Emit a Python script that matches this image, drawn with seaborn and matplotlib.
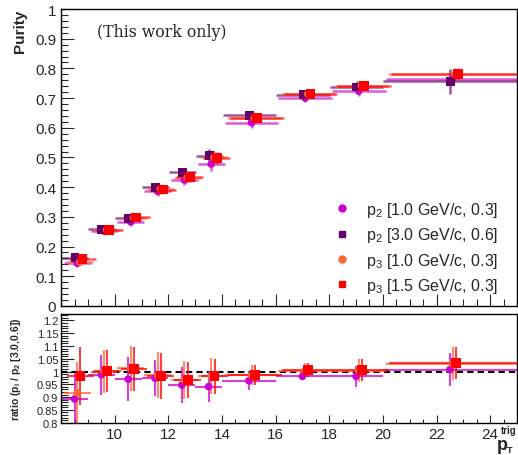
import numpy as np
import pandas as pd
import seaborn as sns
import matplotlib.pyplot as plt
from matplotlib.ticker import MultipleLocator
from matplotlib.lines import Line2D

# pT trigger bins
bin_lo = [8, 9, 10, 11, 12, 13, 14, 16, 18, 20]
bin_hi = [9, 10, 11, 12, 13, 14, 16, 18, 20, 25]

# purity (top panel)
pur_p2_10 = [0.144, 0.252, 0.283, 0.386, 0.424, 0.478, 0.617, 0.700, 0.724, 0.764]
pur_p2_30 = [0.162, 0.258, 0.295, 0.399, 0.450, 0.506, 0.642, 0.712, 0.737, 0.757]
pur_p3_10 = [0.148, 0.256, 0.297, 0.394, 0.432, 0.500, 0.633, 0.714, 0.742, 0.781]
pur_p3_15 = [0.158, 0.256, 0.298, 0.392, 0.434, 0.498, 0.632, 0.715, 0.742, 0.782]
err_p2_10 = [0.012, 0.012, 0.014, 0.016, 0.018, 0.022, 0.018, 0.012, 0.018, 0.020]
err_p2_30 = [0.010, 0.010, 0.012, 0.014, 0.016, 0.022, 0.016, 0.016, 0.022, 0.042]
err_p3_10 = [0.012, 0.012, 0.014, 0.016, 0.018, 0.022, 0.016, 0.012, 0.016, 0.020]
err_p3_15 = [0.010, 0.010, 0.012, 0.014, 0.016, 0.020, 0.014, 0.012, 0.014, 0.018]

# ratio to p2 [3.0, 0.6] (bottom panel)
rat_p2_10 = [0.893, 0.987, 0.970, 0.974, 0.947, 0.941, 0.964, 0.981, 0.981, 1.008]
rat_p3_10 = [0.916, 1.000, 1.012, 0.985, 0.966, 0.984, 0.986, 1.004, 1.004, 1.030]
rat_p3_15 = [0.983, 1.002, 1.010, 0.982, 0.968, 0.982, 0.986, 1.006, 1.006, 1.033]
rerr_p2_10 = [0.100, 0.079, 0.087, 0.071, 0.071, 0.060, 0.035, 0.016, 0.040, 0.064]
rerr_p3_10 = [0.120, 0.085, 0.090, 0.090, 0.075, 0.070, 0.040, 0.030, 0.045, 0.065]
rerr_p3_15 = [0.115, 0.083, 0.085, 0.090, 0.071, 0.068, 0.039, 0.029, 0.042, 0.064]

labels = ['p$_{\\mathregular{2}}$ [1.0 GeV/c, 0.3]',
          'p$_{\\mathregular{2}}$ [3.0 GeV/c, 0.6]',
          'p$_{\\mathregular{3}}$ [1.0 GeV/c, 0.3]',
          'p$_{\\mathregular{3}}$ [1.5 GeV/c, 0.3]']
colors = ['#cc00cc', '#660066', '#ff6633', '#ff0000']
markers = ['o', 's', 'o', 's']
msizes = [30, 40, 30, 50]

sns.set_style("ticks")
plt.rcParams['font.family'] = ['Liberation Sans', 'DejaVu Sans']
plt.rcParams['mathtext.default'] = 'regular'

lo = np.array(bin_lo, float)
hi = np.array(bin_hi, float)
center = (lo + hi) / 2
half = (hi - lo) / 2

fig = plt.figure(figsize=(5.18, 4.56), dpi=100)
ax1 = fig.add_axes([0.118, 0.327, 0.880, 0.651])
ax2 = fig.add_axes([0.118, 0.071, 0.880, 0.238])

# top panel
top_vals = [pur_p2_10, pur_p2_30, pur_p3_10, pur_p3_15]
top_errs = [err_p2_10, err_p2_30, err_p3_10, err_p3_15]
top_shift = [0.1, 0.02, 0.2, 0.3]
for vals, errs, sh, c in zip(top_vals, top_errs, top_shift, colors):
    ax1.errorbar(center + sh, vals, xerr=half, yerr=errs, fmt='none', ecolor=c,
                 elinewidth=1.8, alpha=0.65, capsize=0)
for vals, sh, c, m, s in zip(top_vals, top_shift, colors, markers, msizes):
    df = pd.DataFrame({'x': center + sh, 'y': vals})
    sns.scatterplot(data=df, x='x', y='y', ax=ax1, color=c, marker=m, s=s,
                    edgecolor='none', linewidth=0, zorder=5)

ax1.set_xlim(8, 25)
ax1.set_ylim(0, 1)
ax1.xaxis.set_major_locator(MultipleLocator(2))
ax1.xaxis.set_minor_locator(MultipleLocator(0.5))
ax1.yaxis.set_minor_locator(MultipleLocator(0.02))
ax1.set_yticks(np.arange(0, 1.01, 0.1))
ax1.set_yticklabels(['0'] + ['%.1f' % v for v in np.arange(0.1, 0.95, 0.1)] + ['1'])
ax1.tick_params(axis='both', which='both', direction='in', top=False, right=False)
ax1.tick_params(axis='y', which='major', length=9, labelsize=11, width=0.8)
ax1.tick_params(axis='y', which='minor', length=5, width=0.8)
ax1.tick_params(axis='x', which='major', length=9, width=0.8, labelbottom=False)
ax1.tick_params(axis='x', which='minor', length=5, width=0.8)
ax1.set_xlabel('')
ax1.set_ylabel('')
fig.text(0.038, 0.978, 'Purity', rotation=90, ha='center', va='top',
         fontsize=11, fontweight='bold')
ax1.text(0.078, 0.925, '(This work only)', transform=ax1.transAxes,
         family='DejaVu Serif', fontsize=11.3, ha='left', va='center')

handles = [Line2D([], [], linestyle='none', marker=m, color=c, markersize=5)
           for m, c in zip(markers, colors)]
ax1.legend(handles, labels, loc='lower right', bbox_to_anchor=(0.99, -0.012),
           frameon=False, fontsize=11.5, handletextpad=1.0, labelspacing=0.4,
           handlelength=1.0)

# bottom panel
rat_vals = [rat_p2_10, rat_p3_10, rat_p3_15]
rat_errs = [rerr_p2_10, rerr_p3_10, rerr_p3_15]
rat_cols = [colors[0], colors[2], colors[3]]
rat_mk = [markers[0], markers[2], markers[3]]
rat_sz = [30, 30, 50]
rat_shift = [0.0, 0.1, 0.22]
ax2.axhline(1.0, color='black', linestyle=(0, (3, 2)), linewidth=1.5, zorder=1)
for vals, errs, sh, c in zip(rat_vals, rat_errs, rat_shift, rat_cols):
    ax2.errorbar(center + sh, vals, xerr=half, yerr=errs, fmt='none', ecolor=c,
                 elinewidth=1.5, alpha=0.75, capsize=0)
for vals, sh, c, m, s in zip(rat_vals, rat_shift, rat_cols, rat_mk, rat_sz):
    df = pd.DataFrame({'x': center + sh, 'y': vals})
    sns.scatterplot(data=df, x='x', y='y', ax=ax2, color=c, marker=m, s=s,
                    edgecolor='none', linewidth=0, zorder=5)

ax2.set_xlim(8, 25)
ax2.set_ylim(0.8, 1.225)
ax2.set_xticks([10, 12, 14, 16, 18, 20, 22, 24])
ax2.xaxis.set_minor_locator(MultipleLocator(0.5))
ax2.yaxis.set_minor_locator(MultipleLocator(0.01))
ax2.set_yticks([0.8, 0.85, 0.9, 0.95, 1.0, 1.05, 1.1, 1.15, 1.2])
ax2.set_yticklabels(['0.8', '0.85', '0.9', '0.95', '1', '1.05', '1.1', '1.15', '1.2'])
ax2.tick_params(axis='both', which='both', direction='in', top=False, right=False)
ax2.tick_params(axis='y', which='major', length=9, labelsize=8, width=0.8, pad=2)
ax2.tick_params(axis='y', which='minor', length=5, width=0.8)
ax2.tick_params(axis='x', which='major', length=6, labelsize=11, width=0.8)
ax2.tick_params(axis='x', which='minor', length=3, width=0.8)
ax2.set_xlabel('')
ax2.set_ylabel('')
fig.text(0.03, 0.19, 'ratio (p$_{\\mathregular{i}}$ / p$_{\\mathregular{2}}$ [3.0,0.6])',
         rotation=90, ha='center', va='center', fontsize=7.5, fontweight='bold')

# x axis title p_T^trig, pieces placed ROOT style
fig.text(502 / 518, 1 - 446 / 456, 'p', ha='center', va='center',
         fontsize=13, fontweight='bold')
fig.text(517 / 518, 1 - 431 / 456, 'trig', ha='right', va='center',
         fontsize=7, fontweight='bold')
fig.text(510 / 518, 1 - 451 / 456, 'T', ha='center', va='center',
         fontsize=6.5, fontweight='bold')

for ax in (ax1, ax2):
    for sp in ax.spines.values():
        sp.set_linewidth(1.0)
        sp.set_color('black')

fig.savefig('out.png', dpi=100)
